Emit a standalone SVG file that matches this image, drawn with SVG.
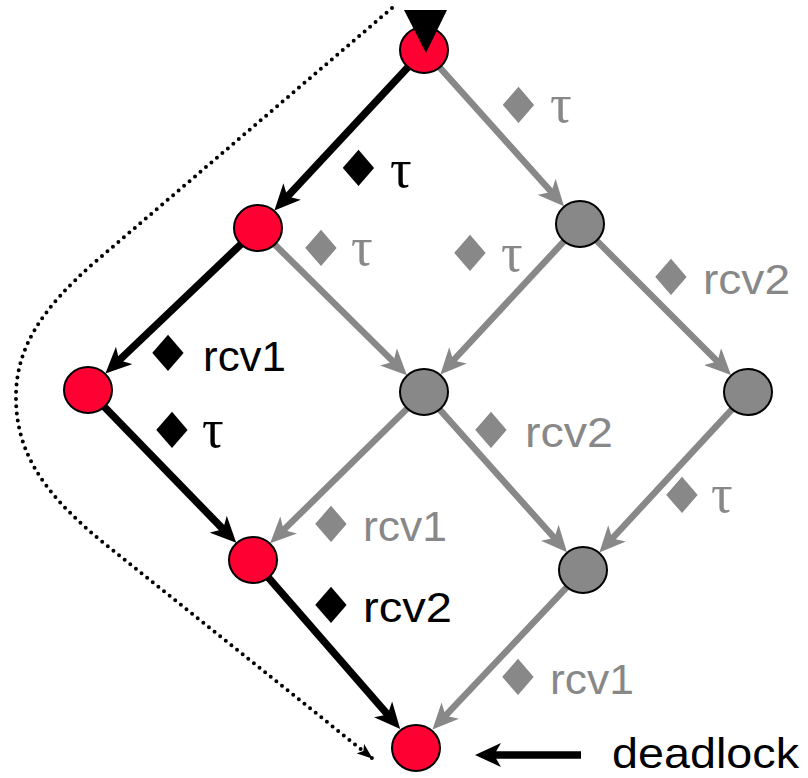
<svg xmlns="http://www.w3.org/2000/svg" width="808" height="778" viewBox="0 0 808 778">
  <style>
    .red { fill: #FF0033; stroke: #000; stroke-width: 2; }
    .grey { fill: #888888; stroke: #000; stroke-width: 2; }
    .e-black { stroke: #000; stroke-width: 7.5; fill: none; marker-end: url(#ah-black); }
    .e-grey { stroke: #888888; stroke-width: 6.5; fill: none; marker-end: url(#ah-grey); }
    .dotted { stroke: #000; stroke-width: 4; fill: none; stroke-dasharray: 0 7.2; stroke-linecap: round; marker-end: url(#ah-dot); }
    .bul { font-family: "DejaVu Sans", sans-serif; font-size: 36px; text-anchor: middle; }
    .act { font-family: "Liberation Sans", Arial, sans-serif; font-size: 43px; }
    .tau { font-family: "Liberation Serif", "DejaVu Serif", serif; font-size: 54px; }
    .k { fill: #000; }
    .g { fill: #888888; }
  </style>
  <defs>
    <marker id="ah-black" viewBox="0 0 26 24" refX="14" refY="12" markerWidth="26" markerHeight="24" markerUnits="userSpaceOnUse" orient="auto">
      <path d="M0,0 L26,12 L0,24 L7,12 Z" fill="#000"/>
    </marker>
    <marker id="ah-grey" viewBox="0 0 26 24" refX="14" refY="12" markerWidth="26" markerHeight="24" markerUnits="userSpaceOnUse" orient="auto">
      <path d="M0,0 L26,12 L0,24 L7,12 Z" fill="#888888"/>
    </marker>
    <marker id="ah-dot" viewBox="0 0 16 12" refX="15" refY="6" markerWidth="16" markerHeight="12" markerUnits="userSpaceOnUse" orient="auto">
      <path d="M0,0 L16,6 L0,12 L4,6 Z" fill="#000"/>
    </marker>
  </defs>

  <!-- transitions -->
  <g id="connectors">
    <path class="dotted" d="M392,8 L95,262 C40,310 15,350 16,400 C17,450 40,490 100,540 L372,758"/>
    <line class="e-grey" x1="424" y1="50" x2="556" y2="197.2"/>
    <line class="e-grey" x1="258" y1="228" x2="398.4" y2="366.7"/>
    <line class="e-grey" x1="580" y1="224" x2="448.5" y2="365.6"/>
    <line class="e-grey" x1="580" y1="224" x2="722.5" y2="366.5"/>
    <line class="e-grey" x1="424" y1="392" x2="278.7" y2="534.8"/>
    <line class="e-grey" x1="424" y1="392" x2="559" y2="543.2"/>
    <line class="e-grey" x1="748" y1="392" x2="607.5" y2="543.6"/>
    <line class="e-grey" x1="583" y1="570" x2="440.7" y2="720.8"/>
    <line class="e-black" x1="424" y1="50" x2="282.6" y2="201.7"/>
    <line class="e-black" x1="258" y1="228" x2="114.1" y2="365.1"/>
    <line class="e-black" x1="88" y1="390" x2="227.9" y2="534.2"/>
    <line class="e-black" x1="253" y1="560" x2="392.3" y2="719.9"/>
    <line class="e-black" x1="581" y1="755" x2="487" y2="755" stroke-width="8.5"/>
  </g>

  <!-- states -->
  <g id="s0"><ellipse class="red" cx="424" cy="50" rx="24" ry="23"/></g>
  <g id="s1"><ellipse class="red" cx="258" cy="228" rx="24" ry="23"/></g>
  <g id="s2"><ellipse class="grey" cx="580" cy="224" rx="24" ry="23"/></g>
  <g id="s3"><ellipse class="red" cx="88" cy="390" rx="24" ry="23"/></g>
  <g id="s4"><ellipse class="grey" cx="424" cy="392" rx="24" ry="23"/></g>
  <g id="s5"><ellipse class="grey" cx="748" cy="392" rx="24" ry="23"/></g>
  <g id="s6"><ellipse class="red" cx="253" cy="560" rx="24" ry="23"/></g>
  <g id="s7"><ellipse class="grey" cx="583" cy="570" rx="24" ry="23"/></g>
  <g id="s8"><ellipse class="red" cx="416" cy="748" rx="24" ry="23"/></g>

  <!-- initial-state arrowhead -->
  <g id="initial"><polygon points="404,10 447,10 426,53" fill="#000"/></g>

  <!-- transition labels: bullet widened to a broad diamond -->
  <g id="labels">
    <text class="bul k" transform="translate(358.5,173) scale(1.55,1.38)" y="9.3">♦</text><text class="tau k" x="390" y="187">τ</text>
    <text class="bul g" transform="translate(518.5,110) scale(1.55,1.38)" y="9.3">♦</text><text class="tau g" x="550" y="122">τ</text>
    <text class="bul g" transform="translate(321,253) scale(1.55,1.38)" y="9.3">♦</text><text class="tau g" x="351" y="265">τ</text>
    <text class="bul g" transform="translate(470,258) scale(1.55,1.38)" y="9.3">♦</text><text class="tau g" x="501" y="271">τ</text>
    <text class="bul g" transform="translate(671,282) scale(1.55,1.38)" y="9.3">♦</text><text class="act g" x="703" y="294" textLength="87" lengthAdjust="spacingAndGlyphs">rcv2</text>
    <text class="bul k" transform="translate(168,358) scale(1.55,1.38)" y="9.3">♦</text><text class="act k" x="203" y="371" textLength="83" lengthAdjust="spacingAndGlyphs">rcv1</text>
    <text class="bul k" transform="translate(172,435) scale(1.55,1.38)" y="9.3">♦</text><text class="tau k" x="202" y="447">τ</text>
    <text class="bul g" transform="translate(491,435) scale(1.55,1.38)" y="9.3">♦</text><text class="act g" x="525" y="447" textLength="88" lengthAdjust="spacingAndGlyphs">rcv2</text>
    <text class="bul g" transform="translate(682,500) scale(1.55,1.38)" y="9.3">♦</text><text class="tau g" x="711" y="512">τ</text>
    <text class="bul g" transform="translate(331,529) scale(1.55,1.38)" y="9.3">♦</text><text class="act g" x="363" y="541" textLength="84" lengthAdjust="spacingAndGlyphs">rcv1</text>
    <text class="bul k" transform="translate(331,610) scale(1.55,1.38)" y="9.3">♦</text><text class="act k" x="363" y="622" textLength="89" lengthAdjust="spacingAndGlyphs">rcv2</text>
    <text class="bul g" transform="translate(518,682) scale(1.55,1.38)" y="9.3">♦</text><text class="act g" x="550" y="694" textLength="84" lengthAdjust="spacingAndGlyphs">rcv1</text>
    <text class="act k" x="612" y="768" font-size="44" textLength="187" lengthAdjust="spacingAndGlyphs">deadlock</text>
  </g>
</svg>
